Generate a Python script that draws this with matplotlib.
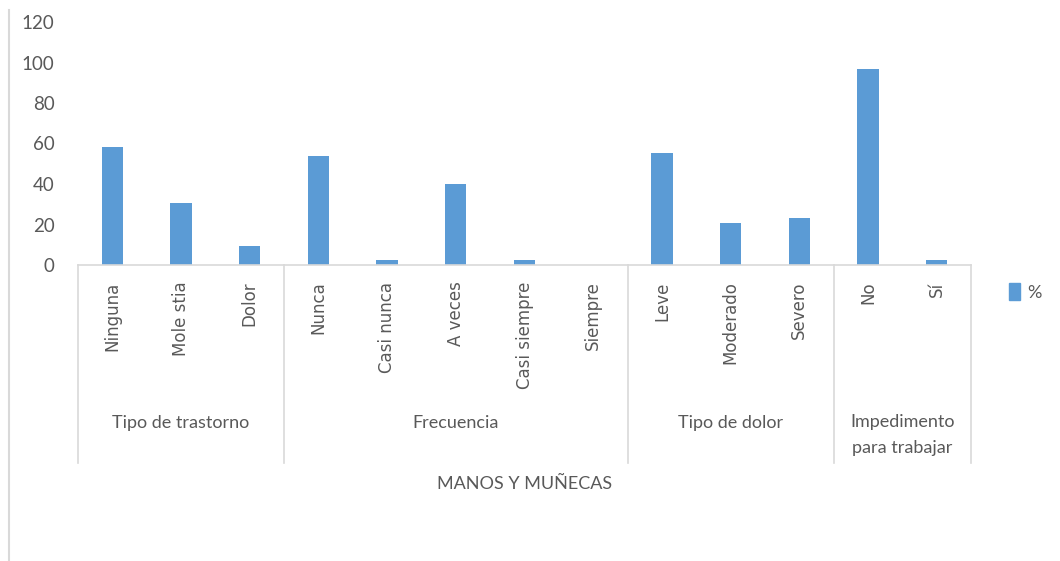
import matplotlib.pyplot as plt
from matplotlib.lines import Line2D
from matplotlib.patches import Patch
import numpy as np

categories = ['Ninguna', 'Mole stia', 'Dolor',
              'Nunca', 'Casi nunca', 'A veces', 'Casi siempre', 'Siempre',
              'Leve', 'Moderado', 'Severo',
              'No', 'Sí']
values = [58.5, 30.5, 9.5, 54, 2.6, 40, 2.6, 0, 55.5, 20.6, 23, 97, 2.6]
groups = ['Tipo de trastorno', 'Frecuencia', 'Tipo de dolor', 'Impedimento\npara trabajar']
group_sizes = [3, 5, 3, 2]
x_title = 'MANOS Y MUÑECAS'
series_name = '%'

bar_color = '#5B9BD5'
text_color = '#595959'
line_color = '#D9D9D9'

plt.rcParams['font.family'] = ['Lato', 'DejaVu Sans']

fig = plt.figure(figsize=(10.6, 5.61), dpi=100)
ax = fig.add_axes([78 / 1060, 1 - 265 / 561, (971 - 78) / 1060, (265 - 22) / 561])

x = np.arange(len(categories))
ax.bar(x, values, width=0.31, color=bar_color, zorder=2)

ax.set_xlim(-0.5, len(categories) - 0.5)
ax.set_ylim(0, 120)
ax.set_yticks(np.arange(0, 121, 20))
ax.tick_params(axis='y', length=0, colors=text_color, labelsize=13.5, pad=17)
ax.set_xticks([])
for side in ['top', 'right', 'left']:
    ax.spines[side].set_visible(False)
ax.spines['bottom'].set_color(line_color)
ax.spines['bottom'].set_linewidth(1.2)

trans = ax.get_xaxis_transform()
for xi, name in zip(x, categories):
    ax.text(xi, -0.068, name, rotation=90, ha='center', va='top', transform=trans,
            fontsize=12, color=text_color, family=['DejaVu Sans'])

edges = np.concatenate([[0], np.cumsum(group_sizes)]) - 0.5
sep_bottom = -(463 - 265) / (265 - 22)
for e in edges:
    ax.plot([e, e], [0, sep_bottom], transform=trans, color=line_color, lw=1.2, clip_on=False)

for i, g in enumerate(groups):
    mid = (edges[i] + edges[i + 1]) / 2
    if '\n' in g:
        ax.text(mid, -(435 - 265) / 243, g, ha='center', va='center', transform=trans,
                fontsize=13, color=text_color, linespacing=1.7)
    else:
        ax.text(mid, -(423 - 265) / 243, g, ha='center', va='center', transform=trans,
                fontsize=13, color=text_color)

fig.text(525 / 1060, 1 - 484 / 561, x_title, ha='center', va='center', fontsize=13, color=text_color)

ax.legend(handles=[Patch(color=bar_color, label=series_name)], loc='center left',
          bbox_to_anchor=(993 / 1060, 1 - 292 / 561), bbox_transform=fig.transFigure,
          frameon=False, fontsize=13, handlelength=0.6, handleheight=1.0, handletextpad=0.4,
          labelcolor=text_color)

fig.add_artist(Line2D([9 / 1060, 9 / 1060], [0, 1 - 10 / 561], color=line_color, lw=1.5))

fig.savefig('out.png', dpi=100)
